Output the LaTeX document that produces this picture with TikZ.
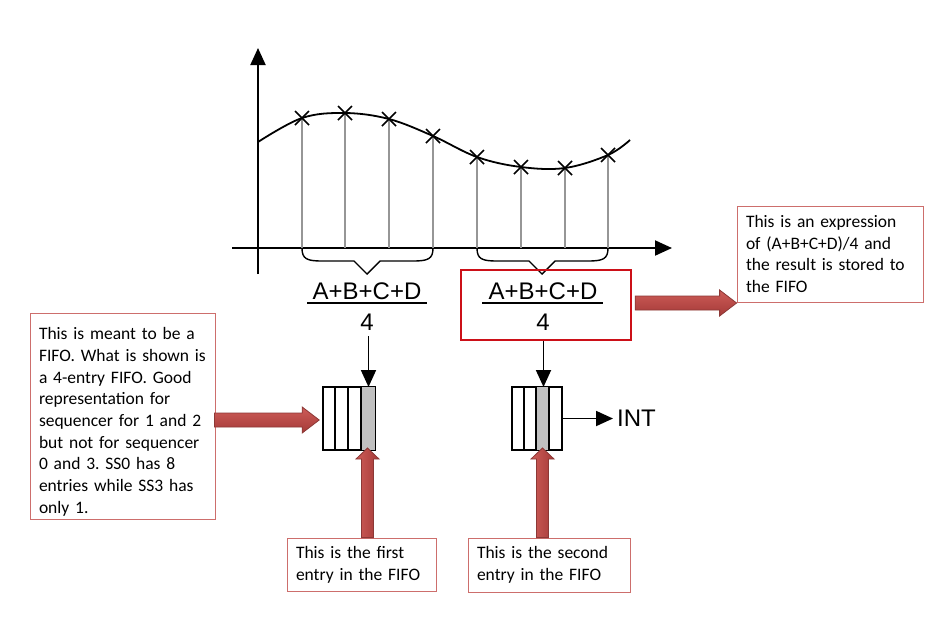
\documentclass[tikz,border=0pt]{standalone}
\usepackage{fontspec}
\setmainfont{Carlito}
\newfontfamily\arial{Liberation Sans}
\usetikzlibrary{arrows.meta,calc,shapes.misc}
\definecolor{arrowfill}{RGB}{192,80,77}
\definecolor{arrowlight}{RGB}{205,92,88}
\definecolor{arrowdark}{RGB}{165,58,56}
\definecolor{arrowline}{RGB}{140,56,54}
\definecolor{callline}{RGB}{205,110,108}
\definecolor{boxred}{RGB}{204,16,24}
\definecolor{cellgray}{RGB}{192,192,192}
\definecolor{stemgray}{RGB}{150,150,150}
\newcommand\hblockarrow[2]{%
  \draw[blockarrow,top color=arrowlight,bottom color=arrowdark] ($(#1)+(0,-7)$) -- ($(#2)+(-17,-7)$) -- ($(#2)+(-17,-13)$) -- (#2)
    -- ($(#2)+(-17,13)$) -- ($(#2)+(-17,7)$) -- ($(#1)+(0,7)$) -- cycle;}
\newcommand\vblockarrow[2]{%
  \draw[blockarrow,left color=arrowlight,right color=arrowdark] ($(#1)+(-6,0)$) -- ($(#2)+(-6,11)$) -- ($(#2)+(-11.5,11)$) -- (#2)
    -- ($(#2)+(11.5,11)$) -- ($(#2)+(6,11)$) -- ($(#1)+(6,0)$) -- cycle;}
\begin{document}
\begin{tikzpicture}[x=1pt,y=-1pt,
  axis/.style={line width=2pt,-{Triangle[length=17pt,width=15pt]}},
  sample/.style={cross out,draw,line width=1.5pt,minimum size=12.5pt,inner sep=0pt},
  stem/.style={draw=stemgray,line width=1.3pt},
  curve/.style={line width=1.8pt},
  fifo/.style={draw,line width=1.6pt,minimum width=52pt,minimum height=63pt,inner sep=0pt},
  callout/.style={draw=callline,line width=0.8pt,align=left,inner xsep=9pt,inner ysep=0pt,
    font=\fontsize{17.5}{21.7}\selectfont},
  bigtext/.style={font=\arial\fontsize{24}{28}\selectfont,inner sep=0pt},
  blockarrow/.style={draw=arrowline,line width=0.8pt},
  flow/.style={line width=1.8pt,-{Triangle[length=17pt,width=15pt]}},
  redbox/.style={draw=boxred,line width=2.5pt,minimum width=170pt,minimum height=70pt,inner sep=0pt}
]
\frenchspacing
\useasboundingbox (0,0) rectangle (945,625);
\fill[white] (0,0) rectangle (945,625);

% axes
\coordinate (ybot) at (258,274);
\coordinate (ytop) at (258,48);
\coordinate (xleft) at (232,248);
\coordinate (xright) at (672,248);
\draw[axis] (ybot) -- (ytop);
\draw[axis] (xleft) -- (xright);

% curve
\draw[curve] plot[smooth,tension=0.6] coordinates {(258,142) (302,118) (345,113) (389,119) (433,136) (477,157) (521,167) (565,168) (608,155) (630,140)};

% samples
\foreach \i/\x/\y in {1/302/118,2/345/113,3/389/119,4/433/136,5/477/157,6/521/167,7/565/168,8/608/155}{
  \draw[stem] (\x,\y) -- (\x,248);
  \node[sample] (s\i) at (\x,\y) {};
}

% braces
\draw[line width=1.4pt] (302,248) .. controls (302,259) and (307,261) .. (322,261) -- (354,261) -- (367,274) -- (380,261) -- (413,261) .. controls (428,261) and (433,259) .. (433,248);
\draw[line width=1.4pt] (477,248) .. controls (477,259) and (482,261) .. (497,261) -- (529,261) -- (542,274) -- (555,261) -- (588,261) .. controls (603,261) and (608,259) .. (608,248);

% fractions
\node[bigtext] (n1) at (367,291) {A+B+C+D};
\node[bigtext] (d1) at (367,322) {4};
\draw[line width=1.5pt] (307,303) -- (427,303);
\node[bigtext] (n2) at (543,291) {A+B+C+D};
\node[bigtext] (d2) at (543,322) {4};
\draw[line width=1.5pt] (482,303) -- (603,303);
\node[redbox] (frbox) at (546,305) {};

% FIFOs
\node[fifo] (fifo1) at (349,418.5) {};
\fill[cellgray] ($(fifo1.north west)+(39,0.8)$) rectangle ($(fifo1.south east)+(-0.8,-0.8)$);
\foreach \k in {1,2,3}{\draw[line width=1.6pt] ($(fifo1.north west)+(13*\k,0)$) -- ($(fifo1.south west)+(13*\k,0)$);}
\node[fifo,minimum width=50pt] (fifo2) at (537,418.5) {};
\fill[cellgray] ($(fifo2.north west)+(25,0.8)$) rectangle ($(fifo2.south west)+(37.5,-0.8)$);
\foreach \k in {1,2,3}{\draw[line width=1.6pt] ($(fifo2.north west)+(12.5*\k,0)$) -- ($(fifo2.south west)+(12.5*\k,0)$);}

\coordinate (g1top) at (368.5,387);
\coordinate (g1bot) at (367.5,448);
\coordinate (g2top) at (543.5,387);
\coordinate (g2bot) at (542.5,448);

\draw[flow] ($(g1top |- d1.south)+(0,6)$) -- (g1top);
\draw[flow] (g2top |- frbox.south) -- (g2top);

\node[bigtext,anchor=west,inner xsep=4pt] (int) at (613,418.5) {INT};
\draw[flow] (fifo2.east) -- (fifo2.east -| int.west);

% callouts
\node[callout,text width=167pt,minimum height=206pt] (c1) at (122.5,416)
 {\rule{0pt}{24pt}This is meant to be a\\FIFO. What is shown is\\a 4-entry FIFO. Good\\representation for\\sequencer for 1 and 2\\but not for sequencer\\0 and 3. SS0 has 8\\entries while SS3 has\\only 1.};
\node[callout,text width=168pt,minimum height=96pt] (c2) at (830,254)
 {This is an expression\\of (A+B+C+D)/4 and\\the result is stored to\\the FIFO};
\node[callout,text width=131pt,minimum height=53pt] (c3) at (361.5,564.5)
 {This is the first\\entry in the FIFO};
\node[callout,text width=144pt,minimum height=54pt] (c4) at (549,565)
 {This is the second\\entry in the FIFO};

% block arrows
\coordinate (a1s) at ($(c1.east |- fifo1.west)+(-1,1.5)$);
\coordinate (a1t) at ($(fifo1.west)+(-3,1.5)$);
\hblockarrow{a1s}{a1t}
\coordinate (a2s) at ($(frbox.east)+(3,-2)$);
\coordinate (a2t) at (c2.west |- a2s);
\hblockarrow{a2s}{a2t}
\coordinate (a3s) at (g1bot |- c3.north);
\vblockarrow{a3s}{g1bot}
\coordinate (a4s) at (g2bot |- c4.north);
\vblockarrow{a4s}{g2bot}
\end{tikzpicture}
\end{document}
